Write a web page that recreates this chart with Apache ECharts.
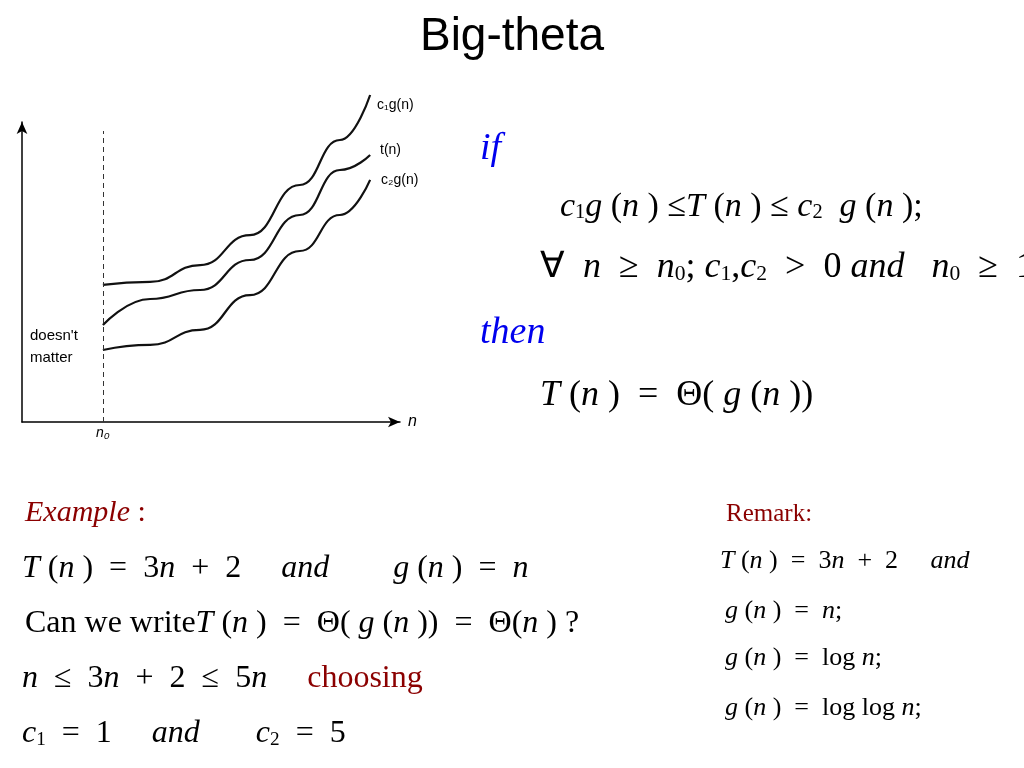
<!DOCTYPE html>
<html><head><meta charset="utf-8">
<script src="https://cdn.jsdelivr.net/npm/echarts@6/dist/echarts.min.js"></script>
<style>html,body{margin:0;background:#fff}#c{width:1024px;height:768px}</style></head>
<body><div id="c"></div>
<script>
const xs = [21.4, 33.9, 47.1, 60.3, 73.5, 84.1, 92.1];
const c1g = [45.7, 46.7, 52.3, 62.3, 79, 94, 109];
const tn  = [32.3, 41, 44, 54, 69, 84, 89];
const c2g = [24, 25.7, 30.7, 42.3, 57, 69, 80.7];
const labels = ['c₁g(n)', 't(n)', 'c₂g(n)'];

const mk = (arr, name) => ({type:'line', name, data: xs.map((x,i)=>[x,arr[i]]), smooth:true, smoothMonotone:'x', symbol:'none', clip:false,
  lineStyle:{color:'#111', width:2.2}});
const serif = '"Liberation Serif","Times New Roman",serif';
function T(x,y,text,size,opts){
  return Object.assign({type:'text', left:x, top:y, style:{text, fontFamily:serif, fontSize:size, fontStyle:'italic', fill:'#000', rich:R(size)}}, opts||{});
}
function R(size){ return {
  i:{fontFamily:serif,fontStyle:'italic',fontSize:size},
  n:{fontFamily:serif,fontStyle:'normal',fontSize:size},
  s:{fontFamily:serif,fontStyle:'normal',fontSize:size*0.6, padding:[size*0.35,0,0,0]},
  b:{fontFamily:serif,fontStyle:'italic',fontSize:size,fill:'#0000ee'},
  r:{fontFamily:serif,fontStyle:'normal',fontSize:size,fill:'#8b0000'},
  ri:{fontFamily:serif,fontStyle:'italic',fontSize:size,fill:'#8b0000'}
};}
const chart = echarts.init(document.getElementById('c'));
chart.setOption({
  animation:false,
  grid:{left:22,right:624,top:122,bottom:346},
  xAxis:{type:'value',min:0,max:100,axisLine:{lineStyle:{color:'#000',width:1.5},symbol:['none','arrow'],symbolSize:[8,12]},
    axisTick:{show:false},axisLabel:{show:false},splitLine:{show:false},name:'n',nameGap:8,
    nameTextStyle:{fontStyle:'italic',fontSize:16,fontFamily:'Liberation Sans'}},
  yAxis:{type:'value',min:0,max:100,axisLine:{show:true,lineStyle:{color:'#000',width:1.5},symbol:['none','arrow'],symbolSize:[8,12]},
    axisTick:{show:false},axisLabel:{show:false},splitLine:{show:false}},
  series:[
    Object.assign(mk(c1g,labels[0]),{markLine:{silent:true,symbol:'none',label:{show:false},
      lineStyle:{type:[5,4],color:'#333',width:1},data:[[{coord:[21.4,0]},{coord:[21.4,97]}]]}}),
    mk(tn,labels[1]), mk(c2g,labels[2])
  ],
  graphic:[
    {type:'text',left:'center',top:14,style:{text:'Big-theta',fontFamily:'Liberation Sans',fontSize:46,fill:'#000'}},
    {type:'text',left:377,top:98,style:{text:'c₁g(n)',fontFamily:'Liberation Sans',fontSize:14}},
    {type:'text',left:380,top:143,style:{text:'t(n)',fontFamily:'Liberation Sans',fontSize:14}},
    {type:'text',left:381,top:173,style:{text:'c₂g(n)',fontFamily:'Liberation Sans',fontSize:14}},
    {type:'text',left:30,top:325,style:{text:"doesn't\nmatter",fontFamily:'Liberation Sans',fontSize:15,lineHeight:22}},
    {type:'text',left:96,top:426,style:{text:'n₀',fontFamily:'Liberation Sans',fontStyle:'italic',fontSize:14}},
    T(480,130,'{b|if}',38),
    T(560,190,'{i|c}{s|1}{i|g} {n|(}{i|n} {n|) ≤}{i|T} {n|(}{i|n} {n|) ≤ }{i|c}{s|2}  {i|g} {n|(}{i|n} {n|);}',34),
    T(540,250,'{n|∀  }{i|n}  {n|≥  }{i|n}{s|0}{n|; }{i|c}{s|1}{n|,}{i|c}{s|2}{n|  >  0 }{i|and   n}{s|0}{n|  ≥  1}',36),
    T(480,314,'{b|then}',38),
    T(540,378,'{i|T} {n|(}{i|n} {n|)  =  Θ( }{i|g} {n|(}{i|n} {n|))}',36),
    T(25,498,'{ri|Example} {r|:}',30),
    T(22,553,'{i|T} {n|(}{i|n} {n|)  =  3}{i|n}{n|  +  2     }{i|and}{n|        }{i|g} {n|(}{i|n} {n|)  =  }{i|n}',32),
    T(25,608,'{n|Can we write}{i|T} {n|(}{i|n} {n|)  =  Θ( }{i|g} {n|(}{i|n} {n|))  =  Θ(}{i|n} {n|) ?}',32),
    T(22,663,'{i|n}{n|  ≤  3}{i|n}{n|  +  2  ≤  5}{i|n}{n|     }{r|choosing}',32),
    T(22,718,'{i|c}{s|1}{n|  =  1     }{i|and}{n|       }{i|c}{s|2}{n|  =  5}',32),
    T(726,502,'{r|Remark:}',25),
    T(720,548,'{i|T} {n|(}{i|n} {n|)  =  3}{i|n}{n|  +  2     }{i|and}',26),
    T(725,598,'{i|g} {n|(}{i|n} {n|)  =  }{i|n}{n|;}',26),
    T(725,645,'{i|g} {n|(}{i|n} {n|)  =  log }{i|n}{n|;}',26),
    T(725,695,'{i|g} {n|(}{i|n} {n|)  =  log log }{i|n}{n|;}',26)
  ]
});
</script></body></html>
